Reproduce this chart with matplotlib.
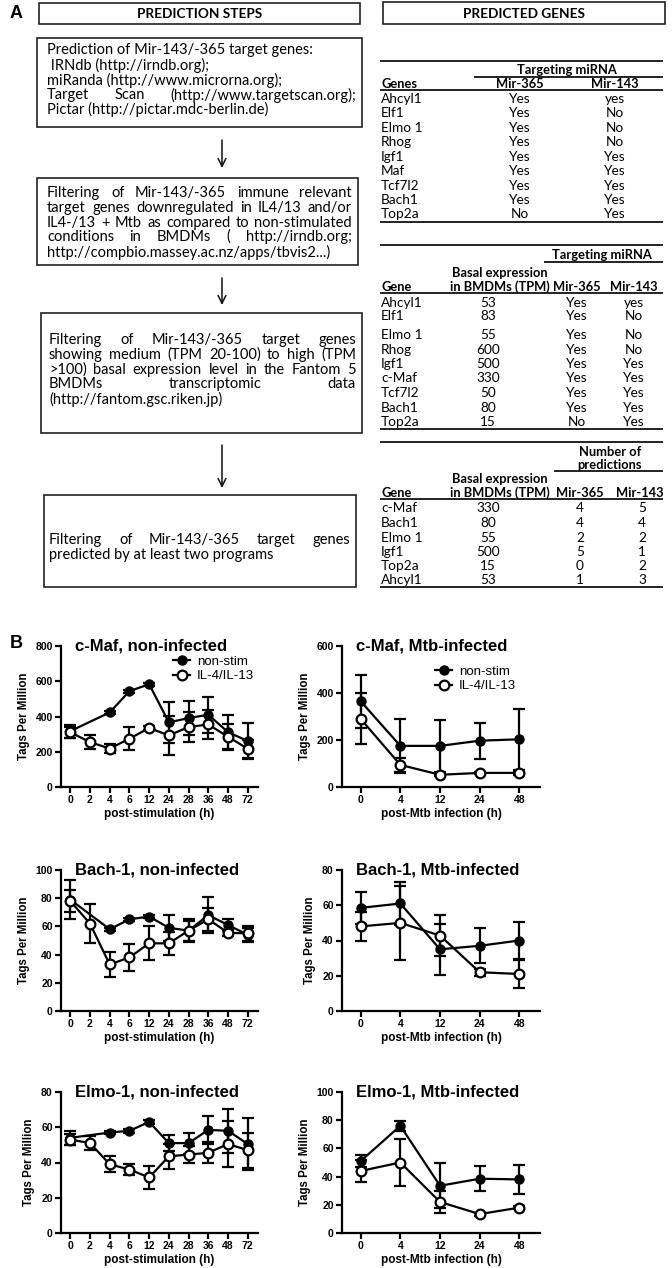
import numpy as np
import matplotlib
matplotlib.use("Agg")
import matplotlib.pyplot as plt
from matplotlib.patches import Rectangle
from matplotlib.lines import Line2D

nan = np.nan

# ---- panel A: prediction steps (text, justified flag) ----
step1 = [("Prediction of Mir-143/-365 target genes:", False),
         (" IRNdb (http://irndb.org);", False),
         ("miRanda (http://www.microrna.org);", False),
         ("Target Scan (http://www.targetscan.org);", True),
         ("Pictar (http://pictar.mdc-berlin.de)", False)]
step2 = [("Filtering of Mir-143/-365 immune relevant", True),
         ("target genes downregulated in IL4/13 and/or", True),
         ("IL4-/13 + Mtb as compared to non-stimulated", True),
         ("conditions in BMDMs ( http://irndb.org;", True),
         ("http://compbio.massey.ac.nz/apps/tbvis2...)", False)]
step3 = [("Filtering of Mir-143/-365 target genes", True),
         ("showing medium (TPM 20-100) to high (TPM", True),
         (">100) basal expression level in the Fantom 5", True),
         ("BMDMs transcriptomic data", True),
         ("(http://fantom.gsc.riken.jp)", False)]
step4 = [("Filtering of Mir-143/-365 target genes", True),
         ("predicted by at least two programs", False)]

# ---- panel A: predicted genes tables ----
t1_genes = ["Ahcyl1", "Elf1", "Elmo 1", "Rhog", "Igf1", "Maf", "Tcf7l2", "Bach1", "Top2a"]
t1_mir365 = ["Yes", "Yes", "Yes", "Yes", "Yes", "Yes", "Yes", "Yes", "No"]
t1_mir143 = ["yes", "No", "No", "No", "Yes", "Yes", "Yes", "Yes", "Yes"]

t2_genes = ["Ahcyl1", "Elf1", "Elmo 1", "Rhog", "Igf1", "c-Maf", "Tcf7l2", "Bach1", "Top2a"]
t2_tpm = [53, 83, 55, 600, 500, 330, 50, 80, 15]
t2_mir365 = ["Yes", "Yes", "Yes", "Yes", "Yes", "Yes", "Yes", "Yes", "No"]
t2_mir143 = ["yes", "No", "No", "No", "Yes", "Yes", "Yes", "Yes", "Yes"]

t3_genes = ["c-Maf", "Bach1", "Elmo 1", "Igf1", "Top2a", "Ahcyl1"]
t3_tpm = [330, 80, 55, 500, 15, 53]
t3_n365 = [4, 4, 2, 5, 0, 1]
t3_n143 = [5, 4, 2, 1, 2, 3]

# ---- panel B: time courses (Tags Per Million) ----
ni_hours = ["0", "2", "4", "6", "12", "24", "28", "36", "48", "72"]
mtb_hours = ["0", "4", "12", "24", "48"]

cmaf_ni_ns = [317, nan, 423, 544, 583, 367, 391, 410, 311, 261]
cmaf_ni_ns_err = [37, nan, 8, 8, 8, 118, 98, 103, 100, 100]
cmaf_ni_il = [310, 255, 218, 274, 335, 293, 340, 355, 285, 217]
cmaf_ni_il_err = [30, 40, 25, 65, 10, 110, 85, 80, 70, 50]

cmaf_mtb_ns = [365, 175, 175, 197, 203]
cmaf_mtb_ns_err = [112, 115, 110, 77, 130]
cmaf_mtb_il = [290, 94, 52, 60, 60]
cmaf_mtb_il_err = [108, 30, 5, 5, 10]

bach_ni_ns = [79, nan, 58, 65, 67, 59, 57, 68, 61, 54]
bach_ni_ns_err = [14, nan, 1, 1, 1, 9, 7, 13, 4, 5]
bach_ni_il = [78, 62, 33, 38, 48, 48, 57, 65, 55.5, 55]
bach_ni_il_err = [8, 14, 9, 9.5, 12, 8, 8, 8, 2, 5]

bach_mtb_ns = [58.5, 61, 35, 37, 40]
bach_mtb_ns_err = [9, 12, 14.5, 10, 10.7]
bach_mtb_il = [48, 50, 42.8, 22, 21]
bach_mtb_il_err = [8, 21, 11.5, 2, 8]

elmo_ni_ns = [54, nan, 57, 58, 63, 51, 51, 58.5, 58, 50.5]
elmo_ni_ns_err = [4, nan, 1, 1, 1, 4.5, 6, 8, 12.5, 15]
elmo_ni_il = [53, 51, 39, 36, 31.5, 43.5, 44.5, 45.5, 50.5, 47]
elmo_ni_il_err = [3, 4, 4.5, 3, 6.5, 7, 5, 6, 13, 10]

elmo_mtb_ns = [51, 76, 33.5, 38.5, 38]
elmo_mtb_ns_err = [4, 3.5, 16, 9, 10]
elmo_mtb_il = [44, 50, 22, 13.4, 18]
elmo_mtb_il_err = [8, 17, 8, 1, 1]

W, H = 672, 1268
TXT = "Lato"
ARIAL = "Liberation Sans"
FS = 10.5      # step boxes
FT = 9.8       # table body
FB = 9.3       # table headers

fig = plt.figure(figsize=(W / 100, H / 100), dpi=100)
cv = fig.add_axes([0, 0, 1, 1])
cv.set_xlim(0, W)
cv.set_ylim(H, 0)
cv.axis("off")
renderer = fig.canvas.get_renderer()


def box(x0, y0, x1, y1):
    cv.add_patch(Rectangle((x0, y0), x1 - x0, y1 - y0, fill=False, lw=1.2, ec="#222222"))


def put_line(x0, x1, y, line, justify):
    if not justify:
        cv.text(x0, y, line, fontsize=FS, family=TXT, va="center")
        return
    words = line.split()
    texts = [cv.text(0, y, w, fontsize=FS, family=TXT, va="center") for w in words]
    widths = [t.get_window_extent(renderer).width for t in texts]
    gap = (x1 - x0 - sum(widths)) / (len(words) - 1)
    x = x0
    for t, w in zip(texts, widths):
        t.set_x(x)
        x += w + gap


def arrow(x, y0, y1):
    cv.annotate("", xy=(x, y1), xytext=(x, y0),
                arrowprops=dict(arrowstyle="->", lw=1.1, color="#111111",
                                mutation_scale=14, shrinkA=0, shrinkB=0))


# ---------------- panel A ----------------
cv.text(10, 14, "A", fontsize=13, fontweight="bold", family=ARIAL, va="center")
box(39, 3, 360, 24)
cv.text(200, 14, "PREDICTION STEPS", fontsize=9.8, fontweight="bold", family=TXT, ha="center", va="center")
box(383, 2, 665, 24)
cv.text(524, 14, "PREDICTED GENES", fontsize=9.8, fontweight="bold", family=TXT, ha="center", va="center")

steps = [(step1, (37, 38, 362, 127), [50, 65, 80, 95, 109], 47, 356),
         (step2, (37, 178, 358, 265), [193, 208, 223, 237, 252], 47, 352),
         (step3, (41, 313, 362, 433), [340, 355, 370, 384, 399], 49, 356),
         (step4, (44, 495, 356, 587), [540, 555], 49, 350)]
for lines, rect, ys, tx0, tx1 in steps:
    box(*rect)
    for (line, just), y in zip(lines, ys):
        put_line(tx0, tx1, y, line, just)

arrow(222, 140, 168)
arrow(222, 278, 305)
arrow(222, 445, 488)

LX0, LX1 = 381, 662


def hline(y, x0=LX0, x1=LX1):
    cv.plot([x0, x1], [y, y], color="#222222", lw=1.4)


def cell(x, y, s, bold=False, ha="center"):
    cv.text(x, y, str(s), fontsize=FB if bold else FT, family=TXT, ha=ha, va="center",
            fontweight="bold" if bold else "normal")


# table 1
hline(61)
cell(567, 70, "Targeting miRNA", bold=True)
hline(77, 475)
cell(LX0, 84, "Genes", bold=True, ha="left")
cell(520, 84, "Mir-365", bold=True)
cell(615, 84, "Mir-143", bold=True)
hline(90)
rows1 = [99, 113, 128, 142, 157, 171, 186, 200, 214]
for y, g, a, b in zip(rows1, t1_genes, t1_mir365, t1_mir143):
    cell(LX0, y, g, ha="left")
    cell(520, y, a)
    cell(615, y, b)
hline(222)

# table 2
hline(245)
cell(602, 255, "Targeting miRNA", bold=True)
hline(262, 545)
cell(500, 273, "Basal expression", bold=True)
cell(500, 287, "in BMDMs (TPM)", bold=True)
cell(LX0, 287, "Gene", bold=True, ha="left")
cell(577, 287, "Mir-365", bold=True)
cell(634, 287, "Mir-143", bold=True)
hline(293)
rows2 = [303, 316, 335, 350, 364, 378, 393, 408, 422]
for y, g, t, a, b in zip(rows2, t2_genes, t2_tpm, t2_mir365, t2_mir143):
    cell(LX0, y, g, ha="left")
    cell(488, y, t)
    cell(577, y, a)
    cell(634, y, b)
hline(429)

# table 3
hline(442)
cell(610, 452, "Number of", bold=True)
cell(610, 465, "predictions", bold=True)
hline(471, 555)
cell(500, 479, "Basal expression", bold=True)
cell(500, 493, "in BMDMs (TPM)", bold=True)
cell(LX0, 493, "Gene", bold=True, ha="left")
cell(580, 493, "Mir-365", bold=True)
cell(640, 493, "Mir-143", bold=True)
hline(499)
rows3 = [508, 523, 538, 552, 566, 580]
for y, g, t, a, b in zip(rows3, t3_genes, t3_tpm, t3_n365, t3_n143):
    cell(LX0, y, g, ha="left")
    cell(488, y, t)
    cell(580, y, a)
    cell(642, y, b)
hline(587)

# ---------------- panel B ----------------
LW = 1.6


def panel(px, title, cats, ns, ns_err, il, il_err, ymax, ystep, xlabel, legend_at=None):
    x0, y0, x1, y1 = px
    ax = fig.add_axes([x0 / W, 1 - y1 / H, (x1 - x0) / W, (y1 - y0) / H])
    x = np.arange(len(cats))
    ns = np.asarray(ns, float)
    ns_err = np.asarray(ns_err, float)
    ok = ~np.isnan(ns)
    ax.errorbar(x[ok], ns[ok], yerr=ns_err[ok], fmt="-o", color="black", mfc="black",
                mec="black", ms=6.5, lw=LW, elinewidth=LW, capsize=4, capthick=LW,
                clip_on=False, zorder=3)
    ax.errorbar(x, il, yerr=il_err, fmt="-o", color="black", mfc="white", mec="black",
                mew=LW, ms=7, lw=LW, elinewidth=LW, capsize=4, capthick=LW,
                clip_on=False, zorder=4)
    ax.set_xlim(-0.47, len(cats) - 0.48)
    ax.set_ylim(0, ymax)
    ax.set_yticks(np.arange(0, ymax + 1, ystep))
    ax.set_xticks(x)
    ax.set_xticklabels(cats)
    for s in ["top", "right"]:
        ax.spines[s].set_visible(False)
    for s in ["left", "bottom"]:
        ax.spines[s].set_linewidth(LW)
    ax.tick_params(width=LW, length=4, labelsize=7.5, pad=2)
    for lbl in ax.get_xticklabels() + ax.get_yticklabels():
        lbl.set_fontweight("bold")
        lbl.set_family(ARIAL)
    ax.set_ylabel("Tags Per Million", fontsize=8.3, fontweight="bold", family=ARIAL, labelpad=4)
    ax.set_xlabel(xlabel, fontsize=8.5, fontweight="bold", family=ARIAL, labelpad=2)
    ax.text(0.07, 1.0, title, transform=ax.transAxes, fontsize=12, fontweight="bold",
            family=ARIAL, va="center")
    if legend_at is not None:
        handles = [Line2D([], [], color="black", marker="o", mfc="black", mec="black", ms=6.5, lw=LW),
                   Line2D([], [], color="black", marker="o", mfc="white", mec="black", mew=LW, ms=7, lw=LW)]
        ax.legend(handles, ["non-stim", "IL-4/IL-13"], loc="upper left", bbox_to_anchor=legend_at,
                  frameon=False, prop={"family": ARIAL, "size": 9.5}, handlelength=1.3,
                  handletextpad=0.5, labelspacing=0.15, borderpad=0, borderaxespad=0)
    return ax


LC, RC = (61, 258), (342, 540)
rows = [(646, 787), (870, 1011), (1092, 1233)]

panel((LC[0], rows[0][0], LC[1], rows[0][1]), "c-Maf, non-infected", ni_hours,
      cmaf_ni_ns, cmaf_ni_ns_err, cmaf_ni_il, cmaf_ni_il_err, 800, 200,
      "post-stimulation (h)", legend_at=(0.57, 0.93))
panel((RC[0], rows[0][0], RC[1], rows[0][1]), "c-Maf, Mtb-infected", mtb_hours,
      cmaf_mtb_ns, cmaf_mtb_ns_err, cmaf_mtb_il, cmaf_mtb_il_err, 600, 200,
      "post-Mtb infection (h)", legend_at=(0.47, 0.86))
panel((LC[0], rows[1][0], LC[1], rows[1][1]), "Bach-1, non-infected", ni_hours,
      bach_ni_ns, bach_ni_ns_err, bach_ni_il, bach_ni_il_err, 100, 20,
      "post-stimulation (h)")
panel((RC[0], rows[1][0], RC[1], rows[1][1]), "Bach-1, Mtb-infected", mtb_hours,
      bach_mtb_ns, bach_mtb_ns_err, bach_mtb_il, bach_mtb_il_err, 80, 20,
      "post-Mtb infection (h)")
panel((LC[0], rows[2][0], LC[1], rows[2][1]), "Elmo-1, non-infected", ni_hours,
      elmo_ni_ns, elmo_ni_ns_err, elmo_ni_il, elmo_ni_il_err, 80, 20,
      "post-stimulation (h)")
panel((RC[0], rows[2][0], RC[1], rows[2][1]), "Elmo-1, Mtb-infected", mtb_hours,
      elmo_mtb_ns, elmo_mtb_ns_err, elmo_mtb_il, elmo_mtb_il_err, 100, 20,
      "post-Mtb infection (h)")

cv.text(10, rows[0][0] - 2, "B", fontsize=13, fontweight="bold", family=ARIAL, va="center")

fig.savefig("out.png", dpi=100)
